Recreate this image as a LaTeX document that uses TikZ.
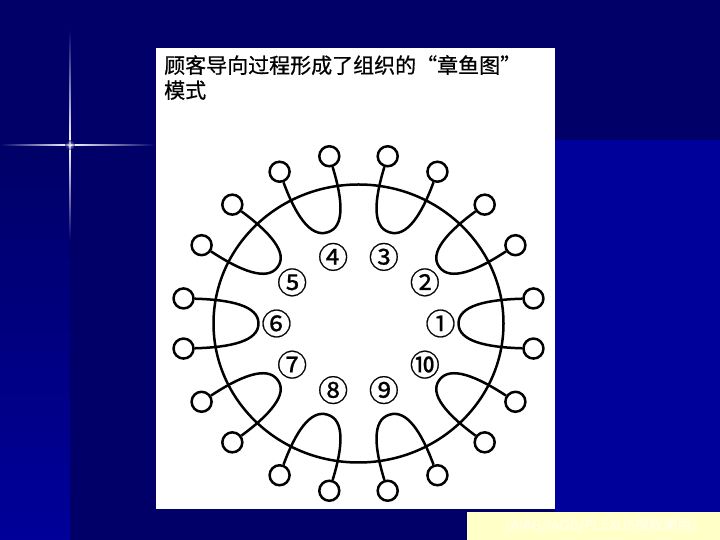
\documentclass[tikz,border=0pt]{standalone}
\usepackage{fontspec}
\setmainfont{Noto Sans CJK SC}
\newfontfamily\heavyfont[FakeBold=0.6]{Noto Sans CJK SC}
\usepackage{tikz}
\definecolor{navy}{HTML}{000068}
\definecolor{deepblue}{HTML}{00009A}
\definecolor{paleyellow}{HTML}{FFFFC8}

\begin{document}
\begin{tikzpicture}[x=1pt, y=1pt,
		arm/.style={line width=2.5pt},
		cup/.style={circle, draw, line width=2.5pt, minimum size=20pt, inner sep=0pt},
		num/.style={font=\heavyfont\fontsize{30}{30}\selectfont, inner sep=0pt}]
	\useasboundingbox (0,0) rectangle (720,540);
	\fill[navy] (0,0) rectangle (720,540);
	\fill[deepblue] (555,28) rectangle (720,400);
	\shade[top color=navy, bottom color=deepblue] (0,0) rectangle (70,395);
	\shade[left color=navy, right color=white] (0,394.4) rectangle (70,395.6);
	\shade[left color=white, right color=navy] (70,394.4) rectangle (155,395.6);
	\shade[top color=navy, bottom color=white] (69.4,395) rectangle (70.6,510);
	\shade[top color=white, bottom color=navy] (69.4,300) rectangle (70.6,395);
	\shade[inner color=white, outer color=navy, opacity=.6] (70,395) circle (5);
	\fill[white] (156,31) rectangle (555,492);
	\fill[paleyellow] (467,0) rectangle (720,28);
	\node[anchor=north west, align=left, inner sep=0pt, font=\heavyfont\fontsize{21}{25}\selectfont] (title) at (164,485) {顾客导向过程形成了组织的“章鱼图”\\模式};
	\node[inner sep=0pt, text=white!70!paleyellow, font=\heavyfont\fontsize{14}{14}\selectfont] (src) at (601,15) {（AIAG/IAOB/PLEXUS授权使用）};
	\begin{scope}[shift={(358.5,216.5)}, x=145pt, y=139pt]
		\coordinate (o) at (0,0);
		\draw[arm] (o) ellipse (145pt and 139pt);
		\foreach \k/\c in {1/①,2/②,3/③,4/④,5/⑤,6/⑥,7/⑦,8/⑧,9/⑨,10/⑩} {
			\pgfmathsetmacro\a{36*(\k-1)}
			\node[cup] (a\k) at ({\a+8.5}:1.22) {};
			\node[cup] (b\k) at ({\a-8.5}:1.22) {};
			\draw[arm] (a\k) .. controls ({\a+11}:0.90) and ({\a+10.5}:0.70) .. (\a:0.69)
				.. controls ({\a-10.5}:0.70) and ({\a-11}:0.90) .. (b\k);
			\node[num] (n\k) at (\a:82pt and 70pt) {\c};
		}
	\end{scope}
\end{tikzpicture}
\end{document}
